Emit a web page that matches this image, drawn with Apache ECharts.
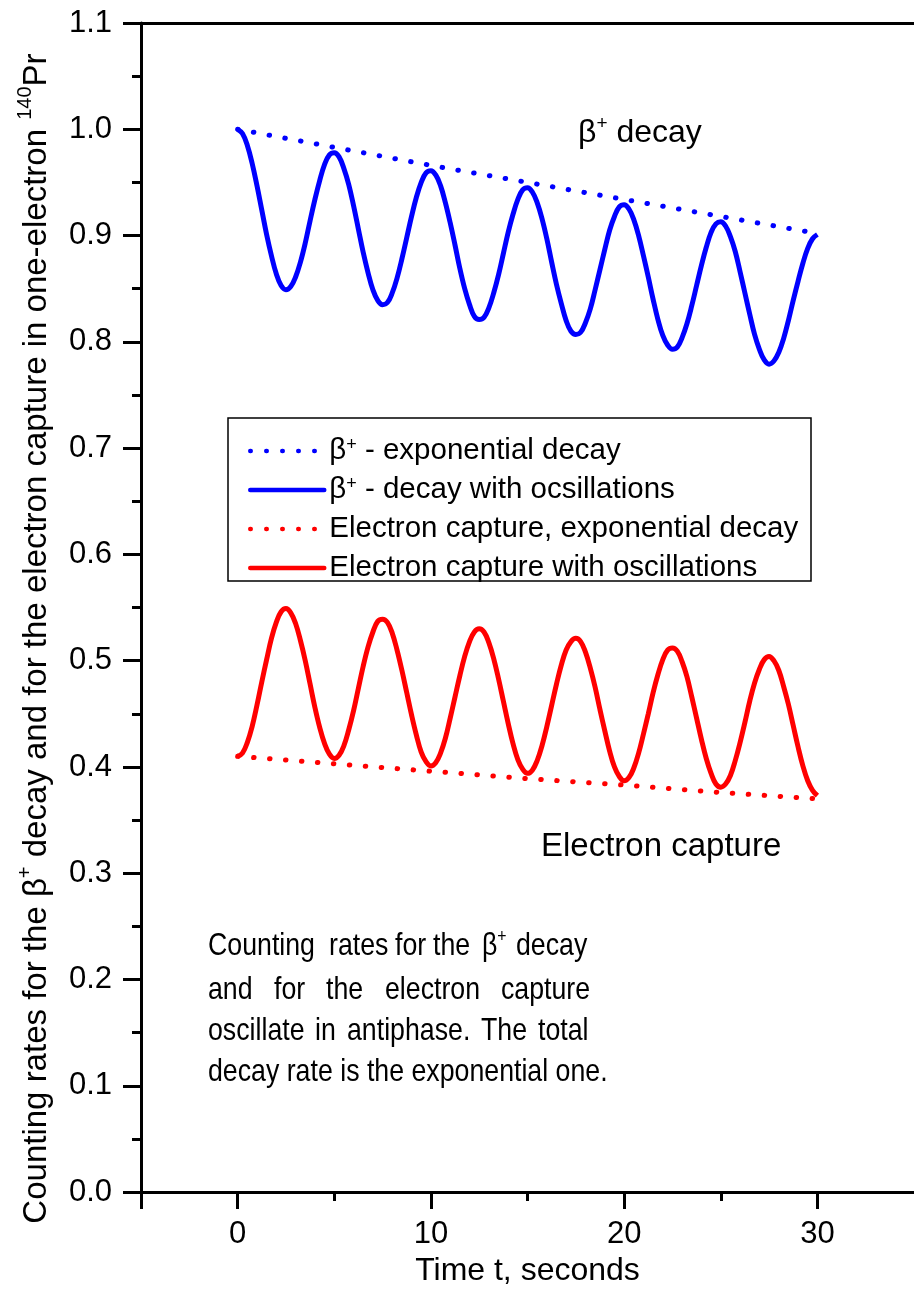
<!DOCTYPE html>
<html>
<head>
<meta charset="utf-8">
<script src="https://cdn.jsdelivr.net/npm/echarts@6/dist/echarts.min.js"></script>
<style>html,body{margin:0;padding:0;background:#fff}#c{width:914px;height:1292px}</style>
</head>
<body>
<div id="c"></div>
<script>
// ---- data ----
const times = [0,0.25,0.5,0.75,1,1.25,1.5,1.75,2,2.25,2.5,2.75,3,3.25,3.5,3.75,4,4.25,4.5,4.75,
  5,5.25,5.5,5.75,6,6.25,6.5,6.75,7,7.25,7.5,7.75,8,8.25,8.5,8.75,9,9.25,9.5,9.75,
  10,10.25,10.5,10.75,11,11.25,11.5,11.75,12,12.25,12.5,12.75,13,13.25,13.5,13.75,14,14.25,14.5,14.75,
  15,15.25,15.5,15.75,16,16.25,16.5,16.75,17,17.25,17.5,17.75,18,18.25,18.5,18.75,19,19.25,19.5,19.75,
  20,20.25,20.5,20.75,21,21.25,21.5,21.75,22,22.25,22.5,22.75,23,23.25,23.5,23.75,24,24.25,24.5,24.75,
  25,25.25,25.5,25.75,26,26.25,26.5,26.75,27,27.25,27.5,27.75,28,28.25,28.5,28.75,29,29.25,29.5,29.75,
  30];
const betaOsc = [1.000,0.996,0.985,0.968,0.947,0.924,0.901,0.881,0.864,0.853,0.849,0.852,0.861,0.875,0.893,0.914,0.934,0.952,0.967,0.976,
  0.978,0.974,0.963,0.948,0.928,0.906,0.884,0.865,0.849,0.839,0.835,0.837,0.846,0.860,0.878,0.898,0.918,0.936,0.950,0.959,
  0.961,0.957,0.947,0.931,0.912,0.891,0.869,0.850,0.835,0.824,0.821,0.823,0.832,0.846,0.863,0.883,0.903,0.920,0.934,0.943,
  0.945,0.941,0.931,0.916,0.897,0.875,0.854,0.836,0.820,0.810,0.807,0.809,0.818,0.831,0.849,0.868,0.887,0.905,0.918,0.927,
  0.929,0.925,0.915,0.900,0.881,0.861,0.840,0.821,0.806,0.797,0.793,0.795,0.804,0.817,0.834,0.853,0.872,0.889,0.903,0.911,
  0.913,0.909,0.899,0.885,0.866,0.846,0.826,0.807,0.793,0.783,0.779,0.782,0.790,0.803,0.820,0.839,0.857,0.874,0.888,0.897,
  0.901];
const ecOsc = [0.410,0.413,0.423,0.438,0.458,0.480,0.501,0.521,0.536,0.546,0.549,0.545,0.535,0.519,0.500,0.478,0.456,0.437,0.422,0.412,
  0.408,0.411,0.420,0.435,0.453,0.474,0.495,0.513,0.527,0.537,0.539,0.536,0.526,0.510,0.491,0.470,0.449,0.430,0.414,0.405,
  0.401,0.404,0.413,0.427,0.446,0.466,0.486,0.504,0.518,0.527,0.530,0.527,0.517,0.502,0.483,0.462,0.441,0.422,0.407,0.398,
  0.394,0.397,0.406,0.420,0.438,0.458,0.478,0.496,0.510,0.518,0.521,0.518,0.508,0.493,0.475,0.454,0.434,0.415,0.400,0.391,
  0.387,0.390,0.399,0.413,0.431,0.450,0.470,0.487,0.501,0.510,0.512,0.509,0.499,0.485,0.466,0.446,0.426,0.408,0.394,0.384,
  0.381,0.384,0.392,0.406,0.423,0.442,0.462,0.479,0.492,0.501,0.504,0.500,0.491,0.476,0.459,0.439,0.419,0.401,0.387,0.378,
  0.373];
const expTimes = [0,5,10,15,20,25,30];
const betaExp = [1.000,0.983,0.966,0.950,0.934,0.918,0.902];
const ecExp = [0.410,0.403,0.396,0.389,0.383,0.376,0.370];
const xLabelValues = [0,10,20,30];
const xMajorTicks = [-5,0,10,20,30];
const xMinorTicks = [5,15,25];
const seriesNames = ['β+ - exponential decay','β+ - decay with ocsillations','Electron capture, exponential decay','Electron capture with oscillations'];

// ---- chart ----
const FONT = "'Liberation Sans', Arial, Helvetica, sans-serif";
const BLUE = '#0000ff', RED = '#ff0000';
const pair = (xs, ys) => xs.map((x, i) => [x, ys[i]]);
const dotted = c => ({color: c, width: 5, type: [0.5, 15.5], cap: 'round'});
const solid = c => ({color: c, width: 5});

const chart = echarts.init(document.getElementById('c'), null, {renderer: 'canvas'});

const AFS = 32, ASX = 0.835;
function word(txt, x, y) {
  return {type: 'text', x: x, y: y, scaleX: ASX,
    style: {text: txt, fontSize: AFS, fontFamily: FONT, fill: '#000', align: 'left', verticalAlign: 'middle'}};
}
function betaWord(x, y, scale, fs, sfs, rest) {
  return {type: 'text', x: x, y: y, scaleX: scale,
    style: {text: '{t|β}{s|+}' + (rest ? '{t|' + rest + '}' : ''), align: 'left', verticalAlign: 'middle',
      rich: {t: {fontSize: fs, fontFamily: FONT, fill: '#000', lineHeight: fs + 6},
             s: {fontSize: sfs, fontFamily: FONT, fill: '#000', lineHeight: sfs, verticalAlign: 'top'}}}};
}

const option = {
  animation: false,
  backgroundColor: '#fff',
  grid: {left: 141, top: 23, width: 778, height: 1173, containLabel: false},
  xAxis: [
    {type: 'value', min: -5, max: 35, position: 'bottom',
     axisLine: {show: true, onZero: false, lineStyle: {color: '#000', width: 3}},
     axisTick: {show: true, customValues: xMajorTicks, length: 17, lineStyle: {color: '#000', width: 3}},
     axisLabel: {show: true, customValues: xLabelValues, margin: 27, fontSize: 31, lineHeight: 31, fontFamily: FONT, color: '#000'},
     splitLine: {show: false},
     name: 'Time t, seconds', nameLocation: 'middle', nameGap: 61,
     nameTextStyle: {fontSize: 32, lineHeight: 32, fontFamily: FONT, color: '#000'}},
    {type: 'value', min: -5, max: 35, position: 'bottom',
     axisLine: {show: false, onZero: false},
     axisTick: {show: true, customValues: xMinorTicks, length: 9, lineStyle: {color: '#000', width: 3}},
     axisLabel: {show: false}, splitLine: {show: false}},
    {type: 'value', min: -5, max: 35, position: 'top',
     axisLine: {show: true, onZero: false, lineStyle: {color: '#000', width: 3}},
     axisTick: {show: false}, axisLabel: {show: false}, splitLine: {show: false}}
  ],
  yAxis: {
    type: 'value', min: 0, max: 1.1, interval: 0.1,
    axisLine: {show: true, onZero: false, lineStyle: {color: '#000', width: 3}},
    axisTick: {show: true, length: 18, lineStyle: {color: '#000', width: 3}},
    minorTick: {show: true, splitNumber: 2, length: 9, lineStyle: {color: '#000', width: 3}},
    axisLabel: {margin: 29, fontSize: 31, fontFamily: FONT, color: '#000', formatter: v => v.toFixed(1)},
    splitLine: {show: false}, minorSplitLine: {show: false},
    name: '{t|Counting rates for the β}{s|+}{t| decay and for the electron capture in one-electron }{s|140}{t|Pr}',
    nameLocation: 'middle', nameRotate: 90, nameGap: 82,
    nameTextStyle: {fontSize: 33, fontFamily: FONT, color: '#000', padding: [0, 62, 0, 0],
      rich: {t: {fontSize: 33, fontFamily: FONT, color: '#000', lineHeight: 44},
             s: {fontSize: 20, fontFamily: FONT, color: '#000', lineHeight: 20, verticalAlign: 'top'}}}
  },
  legend: {
    orient: 'vertical', left: 248, top: 436, itemWidth: 74, itemHeight: 30, itemGap: 9,
    selectedMode: false, data: seriesNames, padding: 0,
    itemStyle: {opacity: 0},
    lineStyle: {width: 4.5, cap: 'round'},
    formatter: n => n.indexOf('β+') === 0 ? '{t|β}{s|+}{t|' + n.slice(2) + '}' : '{t|' + n + '}',
    textStyle: {fontSize: 29.5, fontFamily: FONT, color: '#000',
      rich: {t: {fontSize: 29.5, fontFamily: FONT, color: '#000', lineHeight: 30},
             s: {fontSize: 18, fontFamily: FONT, color: '#000', lineHeight: 20, verticalAlign: 'top'}}}
  },
  series: [
    {name: seriesNames[0], type: 'line', data: pair(expTimes, betaExp), symbol: 'none', showSymbol: false,
     lineStyle: dotted(BLUE), itemStyle: {color: BLUE}, z: 2},
    {name: seriesNames[1], type: 'line', data: pair(times, betaOsc), smooth: 0.4, symbol: 'none', showSymbol: false,
     lineStyle: solid(BLUE), itemStyle: {color: BLUE}, z: 3},
    {name: seriesNames[2], type: 'line', data: pair(expTimes, ecExp), symbol: 'none', showSymbol: false,
     lineStyle: dotted(RED), itemStyle: {color: RED}, z: 2},
    {name: seriesNames[3], type: 'line', data: pair(times, ecOsc), smooth: 0.4, symbol: 'none', showSymbol: false,
     lineStyle: solid(RED), itemStyle: {color: RED}, z: 3}
  ],
  graphic: [
    {type: 'rect', shape: {x: 228, y: 418, width: 583, height: 163}, style: {fill: 'none', stroke: '#000', lineWidth: 1.5}, z: 1},
    betaWord(578, 133, 1, 32, 19, ' decay'),
    {type: 'text', x: 541, y: 847, style: {text: 'Electron capture', fontSize: 33, fontFamily: FONT, fill: '#000', align: 'left', verticalAlign: 'middle'}},
    word('Counting', 208, 946), word('rates', 329, 946), word('for', 395, 946), word('the', 433, 946),
    betaWord(482, 946, ASX, AFS, 19, ''), word('decay', 516, 946),
    word('and', 208, 990), word('for', 274, 990), word('the', 326, 990), word('electron', 385, 990), word('capture', 501, 990),
    word('oscillate', 208, 1031), word('in', 315, 1031), word('antiphase.', 347, 1031), word('The', 481, 1031), word('total', 538, 1031),
    word('decay rate is the exponential one.', 208, 1072)
  ]
};
chart.setOption(option);
</script>
</body>
</html>
